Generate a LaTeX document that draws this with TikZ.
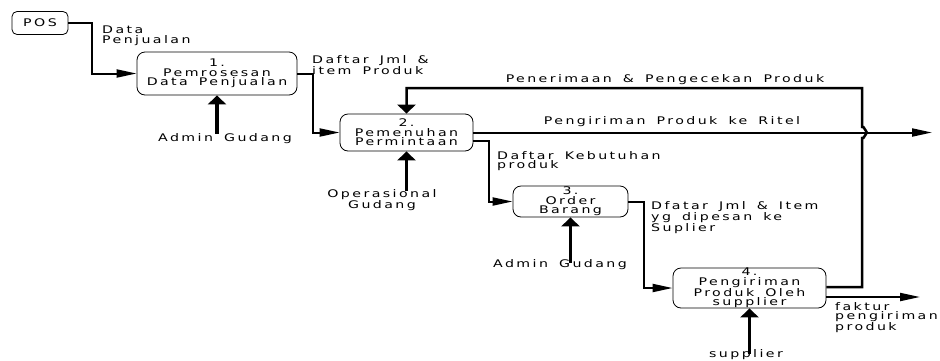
\documentclass[tikz,border=0pt]{standalone}
\usepackage{fontspec}
\setmainfont{DejaVu Sans}[FakeStretch=1.35, LetterSpace=23, WordSpace=1.6]
\usetikzlibrary{arrows.meta,calc}
\begin{document}
\begin{tikzpicture}[x=1pt,y=-1pt,
  every node/.style={font=\fontsize{10.5pt}{9.5pt}\selectfont, inner sep=0pt},
  proc/.style={draw, line width=0.8pt, rounded corners=8pt, align=center},
  flow/.style={line width=2pt, -{Triangle[length=20pt,width=8pt]}},
  fb/.style={line width=2.5pt, -{Triangle[length=9pt,width=18pt]}},
  inarrow/.style={line width=3.2pt, -{Triangle[length=9pt,width=18pt]}},
  lbl/.style={align=left, anchor=north west},
  clbl/.style={align=center}]
\useasboundingbox (0,0) rectangle (940,360);
% processes
\node[proc, rounded corners=5pt, minimum width=56pt, minimum height=23pt] (pos) at (40,23) {POS};
\node[proc, minimum width=160pt, minimum height=43pt] (box1) at (217,73.5) {1.\\Pemrosesan\\Data Penjualan};
\node[proc, minimum width=133pt, minimum height=37pt] (box2) at (406.5,132.5) {2.\\Pemenuhan\\Permintaan};
\node[proc, minimum width=115pt, minimum height=31pt] (box3) at (570.5,201.5) {3.\\Order\\Barang};
\node[proc, minimum width=153pt, minimum height=40pt] (box4) at (749.5,288) {4.\\Pengiriman\\Produk Oleh\\supplier};
% external labels
\node[clbl] (adm1) at (225,139) {Admin Gudang};
\node[clbl] (opr) at (382,200.5) {Operasional\\Gudang};
\node[clbl] (adm2) at (560,265) {Admin Gudang};
\node[clbl] (sup) at (746,355) {supplier};
% flow labels
\node[lbl] (l1) at (102,26) {Data\\Penjualan};
\node[lbl] (l2) at (312,55.5) {Daftar Jml \&\\item Produk};
\node[clbl] (l3) at (665,80) {Penerimaan \& Pengecekan Produk};
\node[clbl] (l4) at (672,122) {Pengiriman Produk ke Ritel};
\node[lbl] (l5) at (497,151) {Daftar Kebutuhan\\produk};
\node[lbl] (l6) at (651,201) {Dfatar Jml \& Item\\yg dipesan ke\\Suplier};
\node[lbl] (l7) at (835,302) {faktur\\pengiriman\\produk};
% free ends
\coordinate (ritelEnd) at (932,132.5);
\coordinate (faktEnd) at (920,297);
% connectors
\draw[flow] (pos.east) -- ++(24,0) |- (box1.west);
\draw[flow] (box1.east) -- ++(16,0) |- (box2.west);
\draw[flow] (box2.east) -- (ritelEnd);
\draw[flow] ([yshift=-8.5pt]box2.east) -- ++(16,0) |- (box3.west);
\draw[flow] (box3.east) -- ++(16,0) |- (box4.west);
\draw[flow] ([yshift=-9pt]box4.east) -- (faktEnd);
\draw[fb] ([yshift=1pt]box4.east) -- (862,287) -- (862,138)
   to[out=-60,in=90] (867.5,132.5) to[out=-90,in=60] (862,127) -- (862,88) -| (box2.north);
% inputs
\draw[inarrow] (box1.south |- adm1.north) -- (box1.south);
\draw[inarrow] ([yshift=-1pt]box2.south |- opr.north) -- (box2.south);
\draw[inarrow] ([yshift=-3pt]box3.south |- adm2.north) -- (box3.south);
\draw[inarrow] ([yshift=-4pt]box4.south |- sup.north) -- (box4.south);
\end{tikzpicture}
\end{document}
